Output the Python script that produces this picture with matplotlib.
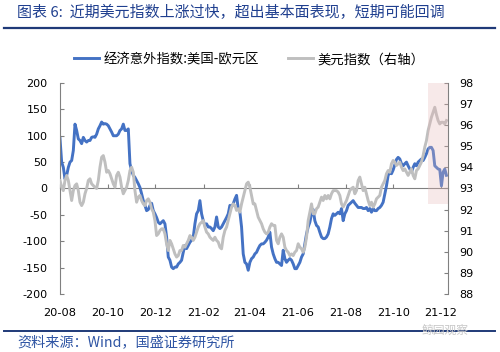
import matplotlib

matplotlib.use("Agg")

import matplotlib.pyplot as plt
import matplotlib.dates as mdates
import pandas as pd
from matplotlib.lines import Line2D

plt.rcParams["font.family"] = ["Noto Sans CJK SC", "DejaVu Sans"]
plt.rcParams["axes.unicode_minus"] = False

# 经济意外指数:美国-欧元区 (left axis) at even spacing
surprise_index = [
    95, 50, 40, 18, 25, 40, 50, 53, 72, 122,
    110, 94, 91, 85, 97, 91, 88, 91, 91, 97,
    98, 97, 103, 113, 119, 126, 122, 123, 122, 119,
    113, 107, 100, 100, 100, 103, 110, 113, 122, 110,
    110, 113, 47, 34, 25, 21, 15, 9, 2, -10,
    -23, -32, -42, -40, -32, -28, -42, -48, -55, -64,
    -67, -64, -61, -67, -92, -130, -136, -149, -152, -149,
    -149, -143, -140, -136, -121, -108, -114, -108, -102, -98,
    -92, -67, -48, -42, -23, -48, -61, -70, -67, -73,
    -73, -76, -80, -73, -54, -73, -76, -73, -67, -61,
    -55, -48, -32, -35, -29, -20, -13, -38, -45, -73,
    -124, -140, -143, -155, -140, -133, -130,
    -124, -121, -114, -108, -105, -105, -102, -98, -92, -83,
    -111, -124, -133, -140, -140, -143, -146, -117, -133, -140,
    -136, -133, -136, -143, -152, -152, -146, -140, -130, -124,
    -105, -86, -73, -64, -48, -40, -61, -70, -73, -83,
    -92, -95, -95, -92, -86, -73, -57, -48, -51, -48,
    -45, -48, -38, -61, -48, -42, -32, -29, -26, -23,
    -28, -32, -36, -36, -36, -38, -38, -36, -42, -38,
    -45, -38, -42, -42, -38, -36, -32, -26, -10, 5,
    25, 30, 28, 35, 45, 55, 59, 56, 47, 43,
    47, 50, 43, 37, 31, 40, 47, 43, 50, 53,
    56, 53, 59, 66, 75, 78, 78, 72, 43, 40,
    37, 36, 5, 31, 37, 25,
]

# 美元指数 (right axis)
dollar_index = [
    93.38, 93.06, 92.9, 93.38, 93.62, 93.38, 92.9, 92.43, 92.9, 93.14,
    93.22, 92.9, 92.35, 92.19, 92.35, 92.75, 93.0, 93.38, 93.46, 93.22,
    93.14, 93.06, 93.0, 93.38, 94.01, 94.48, 94.56, 94.25, 93.77, 93.85,
    93.7, 93.46, 93.22, 93.06, 93.62, 93.77, 93.54, 93.06, 92.75, 92.9,
    93.06, 93.38, 93.85, 94.01, 93.77, 92.9, 92.35, 92.59, 92.67, 92.43,
    92.27, 92.19, 92.43, 92.51, 92.35, 92.04, 91.88, 91.48, 90.77, 90.85,
    91.01, 91.09, 91.09, 90.85, 90.38, 90.06, 90.54, 90.38, 90.14, 89.9,
    89.75, 89.82, 90.06, 90.06, 90.3, 90.22, 90.38, 90.54, 90.77, 90.69,
    90.54, 90.69, 90.93, 91.17, 91.33, 91.4, 91.48, 91.17, 90.93, 90.85,
    90.69, 90.61, 90.54, 90.69, 90.54, 90.46, 90.22, 90.14, 90.69, 91.01,
    91.17, 91.48, 91.8, 92.12, 92.27, 92.2, 91.96, 92.04, 91.88, 92.27,
    92.59, 92.9, 93.22, 93.3, 93.06, 92.67, 92.27,
    92.27, 91.96, 91.64, 91.48, 91.33, 91.09, 90.93, 90.85, 90.93, 91.17,
    91.33, 91.25, 91.25, 90.54, 90.38, 90.69, 90.85, 90.69, 90.22, 90.06,
    89.98, 89.82, 89.9, 89.82, 89.98, 90.06, 90.38, 90.22, 90.14, 89.98,
    90.22, 90.69, 91.48, 91.88, 92.27, 91.8, 91.8, 92.04, 92.12, 92.35,
    92.59, 92.43, 92.67, 92.51, 92.67, 92.51, 92.75, 92.9, 92.9, 92.9,
    92.83, 92.67, 92.27, 92.12, 92.27, 92.43, 92.67, 92.9, 93.0, 93.06,
    92.75, 92.9, 93.38, 93.54, 93.22, 92.9, 93.06, 92.75, 92.43, 92.19,
    92.35, 92.12, 92.27, 92.51, 92.59, 92.67, 93.06, 93.22, 93.38, 93.7,
    93.85, 93.77, 94.17, 94.33, 94.25, 94.09, 94.17, 94.25, 94.01, 93.85,
    93.93, 93.77, 93.62, 93.77, 93.93, 93.62, 93.46, 93.85, 93.93, 94.09,
    94.25, 94.56, 94.96, 95.27, 95.75, 96.06, 96.38, 96.62, 96.85, 96.5,
    96.22, 96.06, 96.14, 96.14, 96.06, 96.22,
]

start_date = "2020-08-01"
end_date = "2021-12-08"
axis_end = "2021-12-10"
highlight_start = "2021-11-15"
tick_dates = pd.date_range("2020-08-01", "2021-12-01", freq="2MS")

left_ticks = list(range(-200, 201, 50))
right_ticks = list(range(88, 99))

title = "图表 6:  近期美元指数上涨过快，超出基本面表现，短期可能回调"
source = "资料来源：Wind，国盛证券研究所"
label_surprise = "经济意外指数:美国-欧元区"
label_dollar = "美元指数（右轴）"

BLUE = "#4472C4"
GRAY = "#BFBFBF"
NAVY = "#1F3F8F"
AXIS = "#808080"

dates = pd.date_range(start_date, end_date, periods=len(surprise_index))

fig = plt.figure(figsize=(5.0, 3.52), dpi=100)
ax = fig.add_axes([0.12, 0.1648, 0.776, 0.5994])
ax2 = ax.twinx()

ax.plot(dates, surprise_index, color=BLUE, linewidth=2.1, solid_joinstyle="round")
ax2.plot(dates, dollar_index, color=GRAY, linewidth=2.1, solid_joinstyle="round")

ax.set_ylim(-200, 200)
ax.set_yticks(left_ticks)
ax2.set_ylim(88, 98)
ax2.set_yticks(right_ticks)
ax.set_xlim(pd.Timestamp(start_date), pd.Timestamp(axis_end))

# pink box over the latest weeks, drawn above the lines like the original
ax2.fill_between(
    [pd.Timestamp(highlight_start), pd.Timestamp(axis_end)],
    98, 93 - 30 / 40,
    color="#E6B8B7", alpha=0.3, linewidth=0, zorder=5,
)

for a in (ax, ax2):
    a.spines["top"].set_visible(False)
    a.spines["bottom"].set_visible(False)
    a.spines["left"].set_color(AXIS)
    a.spines["right"].set_color(AXIS)
    a.spines["left"].set_linewidth(0.8)
    a.spines["right"].set_linewidth(0.8)

ax.spines["right"].set_visible(False)
ax2.spines["left"].set_visible(False)

ax.tick_params(axis="y", direction="in", length=3, color=AXIS, labelsize=8, pad=9)
ax2.tick_params(axis="y", direction="in", length=3, color=AXIS, labelsize=8, pad=8)

ax.set_xticks(tick_dates)
ax.xaxis.set_major_formatter(mdates.DateFormatter("%y-%m"))
ax.tick_params(axis="x", length=0, labelsize=8.2, pad=10)
for lbl in ax.get_xticklabels() + ax.get_yticklabels() + ax2.get_yticklabels():
    lbl.set_fontfamily("DejaVu Sans")

# zero line with the month ticks standing on it
zero_axis = ax.secondary_xaxis(0.5)
zero_axis.set_xticks(tick_dates)
zero_axis.tick_params(axis="x", direction="out", length=3, color=AXIS,
                      labeltop=False, labelbottom=False)
for name in ("top", "bottom"):
    zero_axis.spines[name].set_color(AXIS)
    zero_axis.spines[name].set_linewidth(0.8)

handles = [
    Line2D([], [], color=BLUE, linewidth=2.1),
    Line2D([], [], color=GRAY, linewidth=2.1),
]
fig.legend(
    handles, [label_surprise, label_dollar],
    loc="center left", bbox_to_anchor=(0.148, 0.832), ncol=2,
    frameon=False, fontsize=9.6, handlelength=1.9, handletextpad=0.3,
    columnspacing=2.2, borderpad=0, borderaxespad=0,
)

fig.text(0.034, 0.966, title, color=NAVY, fontsize=10.8, style="italic",
         ha="left", va="center")
fig.add_artist(Line2D([0.008, 0.99], [0.9205, 0.9205], transform=fig.transFigure,
                      color="#1F3A78", linewidth=1.6))
fig.add_artist(Line2D([0.008, 0.99], [0.0597, 0.0597], transform=fig.transFigure,
                      color="#1F3A78", linewidth=1.4))
fig.text(0.034, 0.028, source, color="#2F55A4", fontsize=10.2, style="italic",
         ha="left", va="center")
fig.text(0.89, 0.062, "鲸园观察", color="#C8C8C8", fontsize=8.5,
         ha="center", va="center")

fig.savefig("out.png", dpi=100)
